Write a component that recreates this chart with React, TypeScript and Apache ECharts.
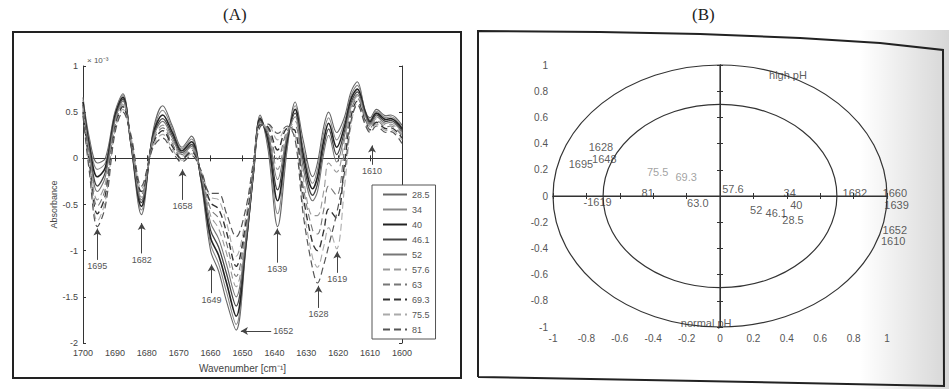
import React, { useEffect, useRef } from "react";
import * as echarts from "echarts";

// ---------- Panel A: second-derivative spectra ----------
const wavenumbers = [1700, 1698, 1695.5, 1693, 1690, 1687.5, 1685, 1681.7, 1678, 1675, 1672, 1669, 1666, 1663, 1660, 1657.5, 1655, 1652, 1649, 1646.5, 1644.5, 1642, 1639, 1636, 1633.5, 1631, 1628, 1626.5, 1624.5, 1623, 1620.5, 1618, 1616, 1614, 1611.5, 1610, 1608, 1605, 1603.5, 1600];

const seriesNames = ["28.5", "34", "40", "46.1", "52", "57.6", "63", "69.3", "75.5", "81"];

const s28_5 = [0.66, 0.22, -0.05, 0.0, 0.5, 0.70, 0.15, -0.61, 0.30, 0.57, 0.35, 0.12, 0.24, -0.25, -1.0, -1.22, -1.55, -1.86, -1.0, -0.15, 0.47, 0.10, -0.74, 0.10, 0.61, 0.20, -0.20, -0.05, 0.35, 0.50, 0.28, 0.45, 0.72, 0.83, 0.50, 0.44, 0.53, 0.46, 0.47, 0.36];
const s34 = [0.63, 0.18, -0.12, -0.05, 0.48, 0.68, 0.16, -0.56, 0.28, 0.52, 0.32, 0.10, 0.21, -0.24, -0.93, -1.14, -1.45, -1.80, -0.98, -0.14, 0.45, 0.15, -0.60, 0.14, 0.57, 0.12, -0.27, -0.12, 0.28, 0.44, 0.20, 0.40, 0.68, 0.79, 0.52, 0.42, 0.51, 0.44, 0.45, 0.34];
const s40 = [0.61, 0.14, -0.20, -0.10, 0.46, 0.66, 0.17, -0.52, 0.26, 0.47, 0.28, 0.08, 0.18, -0.22, -0.86, -1.05, -1.35, -1.71, -0.95, -0.13, 0.43, 0.20, -0.46, 0.19, 0.53, 0.05, -0.33, -0.20, 0.20, 0.38, 0.12, 0.35, 0.64, 0.75, 0.50, 0.40, 0.49, 0.42, 0.43, 0.32];
const s46_1 = [0.58, 0.10, -0.30, -0.15, 0.43, 0.64, 0.18, -0.48, 0.24, 0.43, 0.25, 0.06, 0.15, -0.20, -0.78, -0.96, -1.25, -1.60, -0.92, -0.12, 0.41, 0.24, -0.34, 0.22, 0.49, -0.02, -0.40, -0.28, 0.13, 0.32, 0.04, 0.30, 0.60, 0.72, 0.48, 0.38, 0.47, 0.40, 0.41, 0.30];
const s52 = [0.56, 0.06, -0.36, -0.20, 0.40, 0.62, 0.19, -0.45, 0.22, 0.40, 0.22, 0.04, 0.13, -0.18, -0.70, -0.87, -1.15, -1.50, -0.88, -0.11, 0.39, 0.28, -0.23, 0.25, 0.45, -0.10, -0.46, -0.36, 0.06, 0.25, -0.04, 0.25, 0.57, 0.69, 0.46, 0.36, 0.45, 0.38, 0.39, 0.28];
const s57_6 = [0.54, 0.02, -0.45, -0.27, 0.38, 0.60, 0.20, -0.42, 0.20, 0.36, 0.19, 0.02, 0.11, -0.17, -0.62, -0.76, -1.03, -1.39, -0.82, -0.10, 0.38, 0.30, -0.12, 0.28, 0.40, -0.20, -0.62, -0.62, -0.35, -0.05, -0.15, 0.20, 0.55, 0.67, 0.44, 0.34, 0.43, 0.36, 0.37, 0.26];
const s63 = [0.52, -0.02, -0.52, -0.33, 0.35, 0.58, 0.21, -0.39, 0.18, 0.33, 0.16, 0.00, 0.09, -0.16, -0.55, -0.65, -0.92, -1.28, -0.76, -0.08, 0.37, 0.32, -0.01, 0.30, 0.35, -0.30, -0.78, -0.82, -0.55, -0.30, -0.40, 0.10, 0.52, 0.65, 0.42, 0.33, 0.41, 0.34, 0.35, 0.24];
const s69_3 = [0.50, -0.06, -0.60, -0.40, 0.32, 0.56, 0.22, -0.36, 0.16, 0.30, 0.13, -0.01, 0.07, -0.15, -0.48, -0.55, -0.80, -1.17, -0.70, -0.06, 0.36, 0.34, 0.09, 0.32, 0.30, -0.40, -0.92, -1.00, -0.78, -0.55, -0.65, -0.05, 0.45, 0.62, 0.40, 0.31, 0.39, 0.32, 0.33, 0.22];
const s75_5 = [0.48, -0.10, -0.68, -0.46, 0.30, 0.53, 0.24, -0.33, 0.14, 0.26, 0.10, -0.02, 0.05, -0.14, -0.42, -0.45, -0.70, -1.06, -0.64, -0.04, 0.35, 0.36, 0.20, 0.34, 0.25, -0.50, -1.08, -1.18, -0.95, -0.75, -0.98, -0.30, 0.35, 0.60, 0.38, 0.30, 0.37, 0.30, 0.31, 0.20];
const s81 = [0.46, -0.15, -0.74, -0.52, 0.27, 0.50, 0.26, -0.30, 0.12, 0.22, 0.07, -0.04, 0.03, -0.13, -0.38, -0.38, -0.60, -0.85, -0.55, -0.02, 0.34, 0.37, 0.27, 0.35, 0.20, -0.60, -1.20, -1.35, -1.15, -0.95, -0.60, -0.15, 0.40, 0.58, 0.36, 0.28, 0.35, 0.28, 0.29, 0.16];

const spectra = [s28_5, s34, s40, s46_1, s52, s57_6, s63, s69_3, s75_5, s81];

// band annotations (arrow tip -> tail, label at tail)
const annoLabels = ["1695", "1682", "1658", "1649", "1652", "1639", "1628", "1619", "1610"];
const annoTipX = [1695.5, 1681.6, 1668.8, 1659.7, 1650.5, 1639.1, 1626.2, 1620.3, 1609.4];
const annoTipY = [-0.76, -0.70, -0.12, -1.15, -1.87, -0.76, -1.38, -1.01, 0.14];
const annoTailX = [1695.5, 1681.6, 1668.8, 1659.7, 1641.0, 1639.1, 1626.2, 1620.3, 1609.4];
const annoTailY = [-1.10, -1.03, -0.45, -1.46, -1.87, -1.13, -1.62, -1.24, -0.07];

// ---------- Panel B: PCA biplot ----------
const biplotLabels = ["high pH", "normal pH", "1628", "1648", "1695", "75.5", "69.3", "81", "-1619", "63.0", "57.6", "34", "40", "52", "46.1", "28.5", "1682", "1660", "1639", "1652", "1610"];
const biplotX = [0.41, -0.08, -0.71, -0.69, -0.83, -0.37, -0.20, -0.43, -0.73, -0.13, 0.08, 0.42, 0.46, 0.22, 0.34, 0.44, 0.81, 1.05, 1.06, 1.05, 1.04];
const biplotY = [0.92, -0.97, 0.37, 0.28, 0.24, 0.18, 0.14, 0.02, -0.05, -0.06, 0.05, 0.02, -0.07, -0.11, -0.13, -0.19, 0.02, 0.02, -0.07, -0.26, -0.35];
const circleRadii = [1, 0.7];
const crossH = [[-1, 0], [1, 0]];
const crossV = [[0, -1], [0, 1]];

const lineColors = ["#666", "#888", "#222", "#444", "#777", "#999", "#777", "#333", "#aaa", "#555"];
const lineWidths = [1.1, 1.1, 1.6, 1.3, 1.1, 1.1, 1.1, 1.4, 1.1, 1.2];
const FONT = "Liberation Sans, Arial, sans-serif";

export default function App() {
  const ref = useRef<HTMLDivElement>(null);
  useEffect(() => {
    document.body.style.margin = "0";
    document.body.style.background = "#fff";
    const chart = echarts.init(ref.current as HTMLDivElement, null, { renderer: "svg" });

    const axisCommon = {
      axisLine: { show: true, lineStyle: { color: "#333", width: 1 } },
      axisTick: { show: true, inside: true, length: 3, lineStyle: { color: "#333" } },
      splitLine: { show: false },
    };

    const specSeries: any[] = spectra.map((vals, i) => ({
      name: seriesNames[i],
      type: "line",
      xAxisIndex: 0,
      yAxisIndex: 0,
      data: wavenumbers.map((w, j) => [w, vals[j]]),
      smooth: 0.35,
      symbol: "none",
      lineStyle: { color: lineColors[i], width: lineWidths[i], type: i >= 5 ? [7, 4] : "solid" },
      itemStyle: { color: lineColors[i] },
      z: 3,
    }));
    specSeries[0].markLine = {
      silent: true,
      symbol: ["arrow", "none"],
      symbolSize: [6, 7],
      lineStyle: { color: "#444", width: 1, type: "solid" },
      label: { show: true, position: "end", distance: 2, formatter: "{b}", fontSize: 9, color: "#555", fontFamily: FONT },
      data: annoLabels.map((lab, i) => [
        { coord: [annoTipX[i], annoTipY[i]], name: lab },
        { coord: [annoTailX[i], annoTailY[i]] },
      ]),
    };

    const option: any = {
      animation: false,
      backgroundColor: "#fff",
      textStyle: { fontFamily: FONT },
      grid: [
        { left: 83, top: 66, width: 319, height: 277 },
        { left: 553, top: 65, width: 334, height: 262 },
      ],
      legend: {
        data: seriesNames,
        orient: "vertical",
        left: 372,
        top: 185,
        itemWidth: 24,
        itemHeight: 9,
        itemGap: 6,
        padding: [5, 6, 5, 10],
        borderColor: "#555",
        borderWidth: 1,
        backgroundColor: "#fff",
        selectedMode: false,
        itemStyle: { opacity: 0 },
        textStyle: { fontSize: 9, color: "#555", fontFamily: FONT },
        z: 10,
      },
      xAxis: [
        {
          gridIndex: 0, type: "value", inverse: true, min: 1600, max: 1700, interval: 10, position: "bottom",
          ...axisCommon,
          axisLabel: { fontSize: 9, color: "#444", margin: 5, formatter: (v: number) => String(v) },
          name: "Wavenumber [cm\u207B\u00B9]", nameLocation: "middle", nameGap: 20,
          nameTextStyle: { fontSize: 10, color: "#444" },
        },
        { gridIndex: 0, type: "value", inverse: true, min: 1600, max: 1700, interval: 10, position: "top", ...axisCommon, axisLabel: { show: false } },
        {
          gridIndex: 1, type: "value", min: -1, max: 1, interval: 0.2, position: "bottom",
          ...axisCommon,
          axisLabel: { fontSize: 10, color: "#555", margin: 6 },
        },
        { gridIndex: 1, type: "value", min: -1, max: 1, interval: 0.2, position: "top", ...axisCommon, axisLabel: { show: false } },
      ],
      yAxis: [
        {
          gridIndex: 0, type: "value", min: -2, max: 1, interval: 0.5, position: "left",
          ...axisCommon,
          axisLabel: { fontSize: 9, color: "#444", margin: 5 },
          name: "Absorbance", nameLocation: "middle", nameGap: 24, nameRotate: 90,
          nameTextStyle: { fontSize: 9, color: "#444" },
        },
        { gridIndex: 0, type: "value", min: -2, max: 1, interval: 0.5, position: "right", ...axisCommon, axisLabel: { show: false } },
        {
          gridIndex: 1, type: "value", min: -1, max: 1, interval: 0.2, position: "left",
          ...axisCommon,
          axisLabel: { fontSize: 10, color: "#555", margin: 5 },
        },
        { gridIndex: 1, type: "value", min: -1, max: 1, interval: 0.2, position: "right", ...axisCommon, axisLabel: { show: false } },
      ],
      series: [
        ...specSeries,
        {
          name: "axisH", type: "line", xAxisIndex: 2, yAxisIndex: 2, data: crossH, symbol: "none",
          lineStyle: { color: "#333", width: 1.2 }, z: 3,
        },
        {
          name: "axisV", type: "line", xAxisIndex: 2, yAxisIndex: 2, data: crossV, symbol: "none",
          lineStyle: { color: "#333", width: 1.2 }, z: 3,
        },
        {
          name: "biplot", type: "scatter", xAxisIndex: 2, yAxisIndex: 2, symbolSize: 1, clip: false,
          itemStyle: { color: "rgba(0,0,0,0)" },
          data: biplotLabels.map((t, i) => ({
            value: [biplotX[i], biplotY[i]],
            name: t,
            label: { color: t === "75.5" || t === "69.3" ? "#8a8a8a" : "#333" },
          })),
          label: {
            show: true, position: [0, 0], align: "center", verticalAlign: "middle",
            formatter: "{b}", fontSize: 11, fontFamily: FONT,
            textBorderWidth: 0,
          },
          z: 5,
        },
      ],
    };
    chart.setOption(option);

    const toB = (p: number[]) => chart.convertToPixel({ xAxisIndex: 2, yAxisIndex: 2 }, p) as number[];
    const c = toB([0, 0]);
    const u = toB([1, 1]);
    const ux = u[0] - c[0];
    const uy = c[1] - u[1];

    const graphic: any[] = [
      { type: "text", left: 223, top: 6, style: { text: "(A)", font: "17px 'Liberation Serif', serif", fill: "#222" } },
      { type: "text", left: 692, top: 6, style: { text: "(B)", font: "17px 'Liberation Serif', serif", fill: "#222" } },
      { type: "rect", shape: { x: 13, y: 32, width: 448, height: 346 }, style: { fill: "none", stroke: "#222", lineWidth: 2 }, z: 1 },
      {
        type: "rect", shape: { x: 860, y: 30, width: 89, height: 359 },
        style: { fill: new echarts.graphic.LinearGradient(0, 0, 1, 0, [{ offset: 0, color: "rgba(0,0,0,0)" }, { offset: 1, color: "rgba(0,0,0,0.16)" }]) },
        z: 0,
      },
      {
        type: "polyline",
        shape: { points: [[478, 377], [478, 31], [600, 32], [700, 34], [800, 38], [880, 43], [943, 50], [944, 386], [700, 381], [478, 377]] },
        style: { fill: "none", stroke: "#222", lineWidth: 2 },
        z: 1,
      },
      { type: "text", left: 87, top: 56, style: { text: "\u00D7 10\u207B\u00B3", font: "8px Liberation Sans, Arial, sans-serif", fill: "#555" } },
      ...circleRadii.map((r, i) => ({
        type: "ellipse",
        id: "circle" + i,
        shape: { cx: c[0], cy: c[1], rx: ux * r, ry: uy * r },
        style: { fill: "none", stroke: "#333", lineWidth: 1.2 },
        z: 4,
      })),
    ];
    chart.setOption({ graphic });

    return () => chart.dispose();
  }, []);
  return <div ref={ref} style={{ width: 949, height: 389 }} />;
}
